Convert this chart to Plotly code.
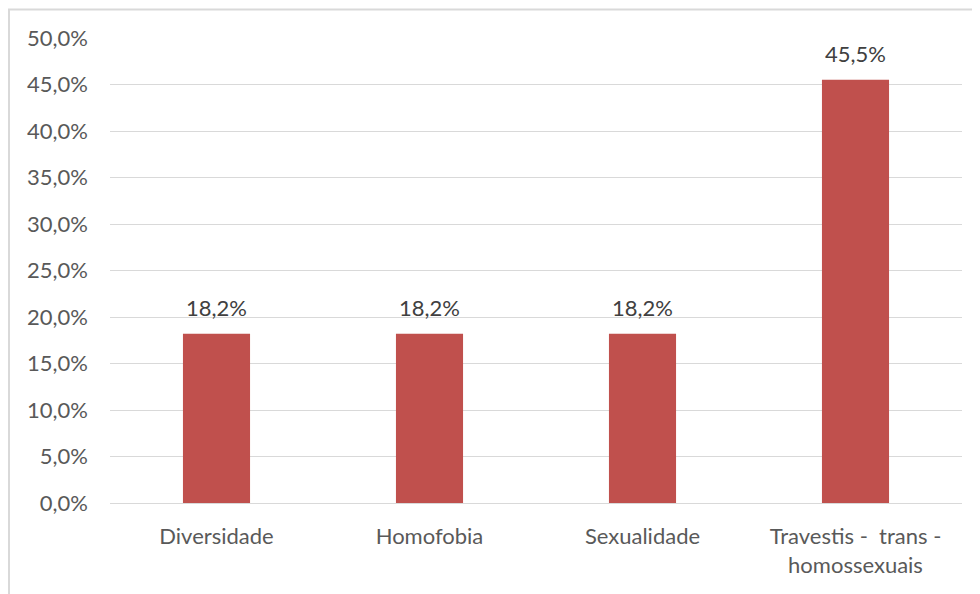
import plotly.graph_objects as go

categories = ["Diversidade", "Homofobia", "Sexualidade", "Travestis -  trans -<br>homossexuais"]
values = [0.182, 0.182, 0.182, 0.455]
tick_vals = [0.0, 0.05, 0.10, 0.15, 0.20, 0.25, 0.30, 0.35, 0.40, 0.45, 0.50]

FONT = "Lato, 'Open Sans', sans-serif"
OFF = 8  # page body margin offset

fig = go.Figure(go.Bar(
    x=categories, y=values,
    marker=dict(color="#C0504D", line=dict(width=0)),
    width=0.315,
    hoverinfo="skip",
))

for c, v in zip(categories, values):
    fig.add_annotation(x=c, y=v, text=f"{v*100:.1f}%".replace(".", ","),
                       showarrow=False, yanchor="bottom", yshift=11,
                       font=dict(family=FONT, size=22, color="#404040"))

L, T = 110 - OFF, 37.5 - OFF
R = 980 - (962 - OFF)
B = 594 - (503.3 - OFF)
pw, ph = 980 - L - R, 594 - T - B

fig.update_layout(
    width=980, height=594,
    margin=dict(l=L, r=R, t=T, b=B, pad=0),
    paper_bgcolor="white", plot_bgcolor="white",
    separators=",.",
    showlegend=False,
    bargap=0.685,
    font=dict(family=FONT, size=22, color="#595959"),
    xaxis=dict(showline=False, ticks="", showgrid=False, ticklabelstandoff=18,
               tickfont=dict(size=22, color="#595959")),
    yaxis=dict(range=[0, 0.5], tickvals=tick_vals, tickformat=".1%",
               showgrid=True, gridcolor="#D9D9D9", gridwidth=1,
               zeroline=True, zerolinecolor="#D9D9D9", zerolinewidth=1,
               ticks="", ticklabelstandoff=21, tickfont=dict(size=22, color="#595959")),
    shapes=[dict(type="rect", xref="paper", yref="paper",
                 x0=(9 - OFF - L) / pw, x1=(1200 - L) / pw,
                 y0=1 - (700 - T) / ph, y1=1 + (T - (8 - OFF) - 1) / ph,
                 line=dict(color="#D9D9D9", width=2), layer="below")],
)

fig.write_html("out.html")
